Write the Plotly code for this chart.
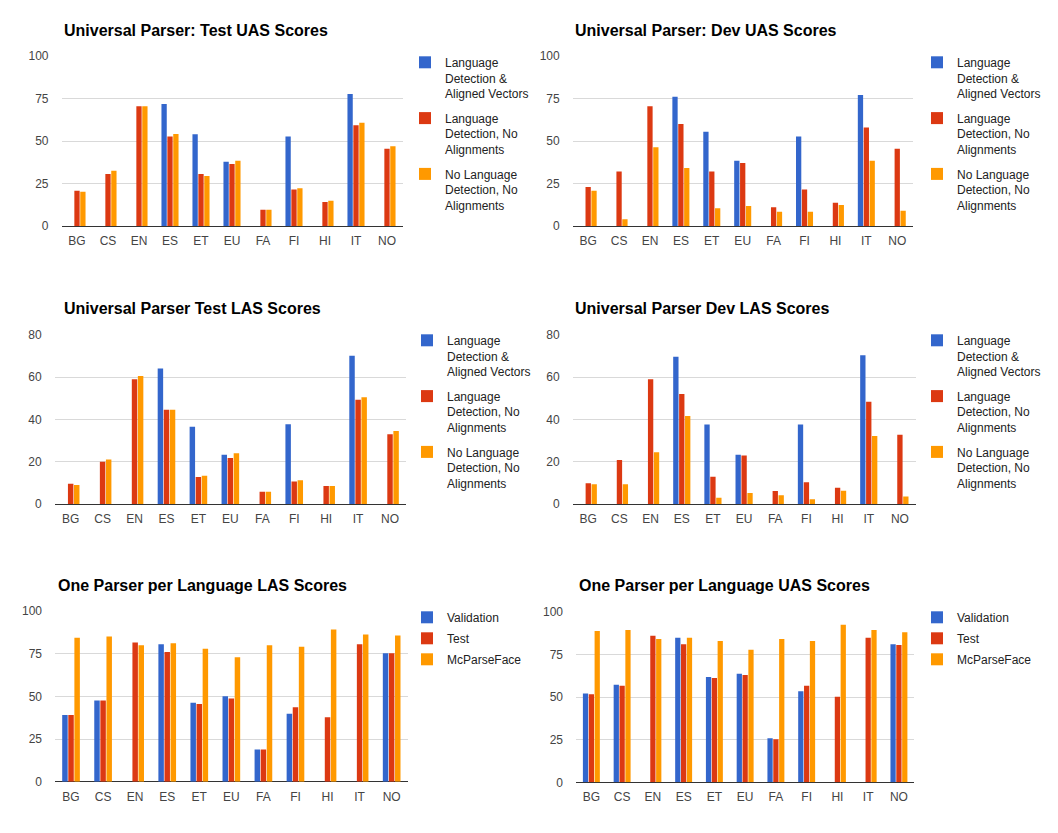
import plotly.graph_objects as go

W, H = 1058, 833

langs = ["BG", "CS", "EN", "ES", "ET", "EU", "FA", "FI", "HI", "IT", "NO"]

univ_series = ["Language<br>Detection &<br>Aligned Vectors",
               "Language<br>Detection, No<br>Alignments",
               "No Language<br>Detection, No<br>Alignments"]
opl_series = ["Validation", "Test", "McParseFace"]

test_uas_aligned = [None, None, None, 71.8, 53.9, 37.8, None, 52.7, None, 77.6, None]
test_uas_detect = [20.8, 30.6, 70.4, 52.7, 30.6, 36.5, 9.6, 21.4, 14.1, 59.2, 45.5]
test_uas_nodetect = [20.2, 32.5, 70.4, 54.1, 29.4, 38.4, 9.6, 22.2, 14.9, 60.8, 46.9]

dev_uas_aligned = [None, None, None, 76.1, 55.5, 38.4, None, 52.7, None, 77.1, None]
dev_uas_detect = [22.9, 32.0, 70.4, 60.0, 32.0, 37.1, 11.0, 21.4, 13.7, 58.0, 45.5]
dev_uas_nodetect = [20.8, 3.9, 46.3, 34.1, 10.4, 11.8, 8.4, 8.4, 12.4, 38.4, 9.0]

test_las_aligned = [None, None, None, 64.2, 36.6, 23.3, None, 37.7, None, 70.2, None]
test_las_detect = [9.6, 20.0, 59.0, 44.6, 12.8, 21.8, 5.8, 10.6, 8.5, 49.4, 33.0]
test_las_nodetect = [9.0, 21.1, 60.6, 44.6, 13.4, 24.0, 5.8, 11.2, 8.5, 50.5, 34.5]

dev_las_aligned = [None, None, None, 69.7, 37.6, 23.3, None, 37.6, None, 70.4, None]
dev_las_detect = [9.8, 20.8, 59.0, 52.1, 12.9, 23.0, 6.2, 10.3, 7.7, 48.4, 32.8]
dev_las_nodetect = [9.3, 9.3, 24.5, 41.7, 3.0, 5.2, 4.1, 2.2, 6.3, 32.2, 3.6]

opl_las_val = [39.1, 47.5, None, 80.5, 46.3, 50.0, 18.9, 39.8, None, None, 75.2]
opl_las_test = [39.1, 47.5, 81.6, 76.0, 45.5, 48.8, 18.9, 43.6, 37.7, 80.5, 75.2]
opl_las_mcp = [84.4, 85.0, 79.9, 81.1, 77.9, 72.9, 79.9, 79.1, 89.1, 86.3, 85.7]

opl_uas_val = [52.0, 57.2, None, 84.8, 61.7, 63.7, 25.8, 53.3, None, None, 80.9]
opl_uas_test = [51.6, 56.6, 85.9, 80.9, 61.1, 62.9, 25.2, 56.6, 50.2, 84.8, 80.5]
opl_uas_mcp = [88.7, 89.3, 84.0, 84.8, 82.8, 77.7, 84.0, 82.8, 92.4, 89.3, 87.9]

colors = ["#3366CC", "#DC3912", "#FF9900"]
FONT = "Arial, 'Liberation Sans', sans-serif"

panels = [
    dict(title="Universal Parser: Test UAS Scores", names=univ_series,
         data=[test_uas_aligned, test_uas_detect, test_uas_nodetect],
         ticks=[0, 25, 50, 75, 100], box=(61.5, 402.5, 56, 226), tpos=(62, 31), lpos=(405, 48)),
    dict(title="Universal Parser: Dev UAS Scores", names=univ_series,
         data=[dev_uas_aligned, dev_uas_detect, dev_uas_nodetect],
         ticks=[0, 25, 50, 75, 100], box=(572.7, 912.7, 56, 226), tpos=(573, 31), lpos=(917, 48)),
    dict(title="Universal Parser Test LAS Scores", names=univ_series,
         data=[test_las_aligned, test_las_detect, test_las_nodetect],
         ticks=[0, 20, 40, 60, 80], box=(54.7, 406, 335, 504), tpos=(62, 308), lpos=(407, 326)),
    dict(title="Universal Parser Dev LAS Scores", names=univ_series,
         data=[dev_las_aligned, dev_las_detect, dev_las_nodetect],
         ticks=[0, 20, 40, 60, 80], box=(572.7, 915.5, 335, 504), tpos=(573, 308), lpos=(917, 326)),
    dict(title="One Parser per Language LAS Scores", names=opl_series,
         data=[opl_las_val, opl_las_test, opl_las_mcp],
         ticks=[0, 25, 50, 75, 100], box=(55, 407.7, 611, 781.7), tpos=(56, 585), lpos=(407, 603)),
    dict(title="One Parser per Language UAS Scores", names=opl_series,
         data=[opl_uas_val, opl_uas_test, opl_uas_mcp],
         ticks=[0, 25, 50, 75, 100], box=(576, 914.3, 611.7, 782.3), tpos=(577, 585), lpos=(917, 603)),
]

fig = go.Figure()
layout = dict(
    width=W, height=H, margin=dict(l=0, r=0, t=0, b=0, autoexpand=False),
    paper_bgcolor="white", plot_bgcolor="white",
    font=dict(family=FONT, size=12, color="#444"),
    barmode="group", bargap=0.43, bargroupgap=0.1,
    annotations=[], showlegend=True,
)

for i, p in enumerate(panels):
    k = "" if i == 0 else str(i + 1)
    x0, x1, yt, yb = p["box"]
    leg = "legend" + k
    for j, (name, vals) in enumerate(zip(p["names"], p["data"])):
        fig.add_trace(go.Bar(
            x=langs, y=vals, name=name, marker=dict(color=colors[j], line=dict(width=0)),
            xaxis="x" + k, yaxis="y" + k, legend=leg, legendgroup=f"p{i}s{j}",
        ))
    layout["xaxis" + k] = dict(
        domain=[x0 / W, x1 / W], anchor="y" + k, type="category",
        categoryorder="array", categoryarray=langs, range=[-0.5, 10.5],
        showgrid=False, showline=False, zeroline=False, ticks="",
        tickfont=dict(size=12, color="#444"), ticklabelstandoff=6, fixedrange=True,
        automargin=False,
    )
    layout["yaxis" + k] = dict(
        domain=[1 - yb / H, 1 - yt / H], anchor="x" + k,
        range=[0, p["ticks"][-1]], tickvals=p["ticks"],
        showgrid=True, gridcolor="#d9d9d9", gridwidth=1,
        zeroline=True, zerolinecolor="#333", zerolinewidth=1,
        showline=False, ticks="", tickfont=dict(size=12, color="#444"),
        ticklabelstandoff=12, fixedrange=True, automargin=False,
    )
    lx, ly = p["lpos"]
    layout[leg] = dict(
        x=lx / W, y=1 - ly / H, xanchor="left", yanchor="top",
        xref="paper", yref="paper", bgcolor="rgba(0,0,0,0)", borderwidth=0,
        font=dict(size=12, color="#222", family=FONT), valign="top",
        tracegroupgap=6 if len(p["names"][0]) > 12 else 2,
        itemclick=False, itemdoubleclick=False,
    )
    tx, ty = p["tpos"]
    layout["annotations"].append(dict(
        text="<b>" + p["title"] + "</b>", x=tx / W, y=1 - ty / H,
        xref="paper", yref="paper", xanchor="left", yanchor="middle",
        showarrow=False, font=dict(size=16, color="#000", family=FONT),
    ))

fig.update_layout(**layout)
fig.write_html("out.html", config={"displayModeBar": False},
               post_script="document.body.style.margin='0';document.body.style.overflow='hidden';")
